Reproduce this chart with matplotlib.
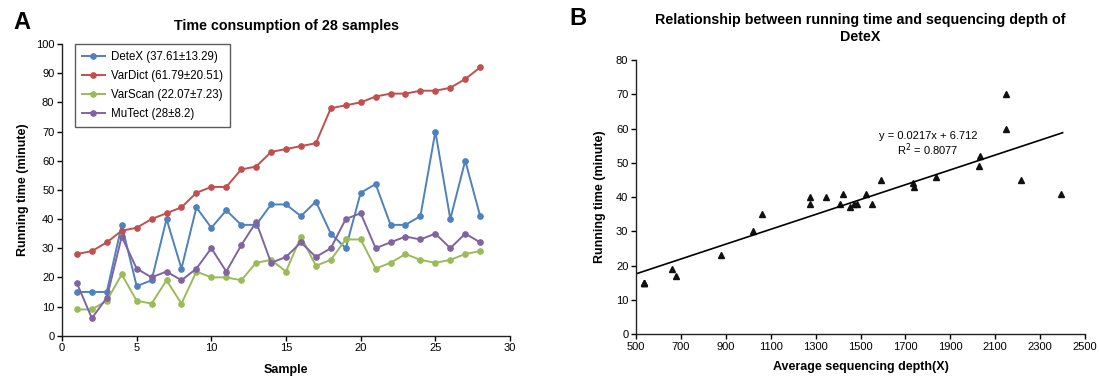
import matplotlib
matplotlib.use("Agg")
import matplotlib.pyplot as plt
import numpy as np

plt.rcParams["font.family"] = ["Liberation Sans", "DejaVu Sans"]

# panel A: running time per sample (minutes)
samples = list(range(1, 29))
detex = [15, 15, 15, 38, 17, 19, 40, 23, 44, 37, 43, 38, 38, 45, 45, 41, 46, 35, 30, 49,
         52, 38, 38, 41, 70, 40, 60, 41]
vardict = [28, 29, 32, 36, 37, 40, 42, 44, 49, 51, 51, 57, 58, 63, 64, 65, 66, 78, 79, 80,
           82, 83, 83, 84, 84, 85, 88, 92]
varscan = [9, 9, 12, 21, 12, 11, 19, 11, 22, 20, 20, 19, 25, 26, 22, 34, 24, 26, 33, 33,
           23, 25, 28, 26, 25, 26, 28, 29]
mutect = [18, 6, 13, 34, 23, 20, 22, 19, 23, 30, 22, 31, 39, 25, 27, 32, 27, 30, 40, 42,
          30, 32, 34, 33, 35, 30, 35, 32]
series_labels = ["DeteX (37.61\u00b113.29)", "VarDict (61.79\u00b120.51)",
                 "VarScan (22.07\u00b17.23)", "MuTect (28\u00b18.2)"]
series_colors = ["#4F81BD", "#C0504D", "#9BBB59", "#8064A2"]

# panel B: sequencing depth vs DeteX running time
depth = [537, 537, 537, 660, 678, 879, 1022, 1061, 1275, 1275, 1345, 1409, 1424, 1451,
         1472, 1486, 1523, 1553, 1590, 1735, 1738, 1835, 2029, 2032, 2148, 2148, 2215, 2393]
run_time = [15, 15, 15, 19, 17, 23, 30, 35, 40, 38, 40, 38, 41, 37,
            38, 38, 41, 38, 45, 44, 43, 46, 49, 52, 70, 60, 45, 41]
slope, intercept = 0.0217, 6.712
fit_range = [500, 2400]

fig = plt.figure(figsize=(10.99, 3.83), dpi=100)
ax1 = fig.add_axes([0.0564, 0.1235, 0.4077, 0.7615])
ax2 = fig.add_axes([0.5787, 0.128, 0.4086, 0.715])

for vals, lab, col in zip([detex, vardict, varscan, mutect], series_labels, series_colors):
    ax1.plot(samples, vals, "-o", color=col, lw=1.4, ms=3.8, label=lab)

ax1.set_xlim(0, 30)
ax1.set_ylim(0, 100)
ax1.set_xticks(range(0, 31, 5))
ax1.set_yticks(range(0, 101, 10))
ax1.set_xlabel("Sample", fontsize=9, fontweight="bold", labelpad=8)
ax1.set_ylabel("Running time (minute)", fontsize=9, fontweight="bold", labelpad=5)
ax1.set_title("Time consumption of 28 samples", fontsize=10.3, fontweight="bold", pad=10)
leg = ax1.legend(loc="upper left", bbox_to_anchor=(0.029, 1.0), fontsize=8.3,
                 frameon=True, fancybox=False, borderaxespad=0, handlelength=2.0,
                 labelspacing=0.6, borderpad=0.6, handletextpad=0.5)
leg.get_frame().set_edgecolor("#333333")
leg.get_frame().set_linewidth(1.0)

ax2.plot(depth, run_time, "^", color="#111111", ms=4.5)
fx = np.array(fit_range)
ax2.plot(fx, slope * fx + intercept, color="black", lw=1.2)
ax2.text(1800, 57.8, "y = 0.0217x + 6.712", fontsize=8, ha="center", va="center")
ax2.text(1800, 53.7, "R$^2$ = 0.8077", fontsize=8, ha="center", va="center")
ax2.set_xlim(500, 2500)
ax2.set_ylim(0, 80)
ax2.set_xticks(range(500, 2501, 200))
ax2.set_yticks(range(0, 81, 10))
ax2.set_xlabel("Average sequencing depth(X)", fontsize=9, fontweight="bold", labelpad=7)
ax2.set_ylabel("Running time (minute)", fontsize=9, fontweight="bold", labelpad=7)
ax2.set_title("Relationship between running time and sequencing depth of\nDeteX",
              fontsize=10.3, fontweight="bold", pad=14, linespacing=1.25)

for ax in (ax1, ax2):
    for side in ("top", "right"):
        ax.spines[side].set_visible(False)
    for side in ("left", "bottom"):
        ax.spines[side].set_linewidth(1.0)
        ax.spines[side].set_color("#222222")
    ax.tick_params(direction="out", length=3.5, width=1.0, labelsize=8, pad=2)

fig.text(0.012, 0.94, "A", fontsize=17, fontweight="bold", va="center")
fig.text(0.518, 0.952, "B", fontsize=17, fontweight="bold", va="center")

fig.savefig("out.png", dpi=100)
